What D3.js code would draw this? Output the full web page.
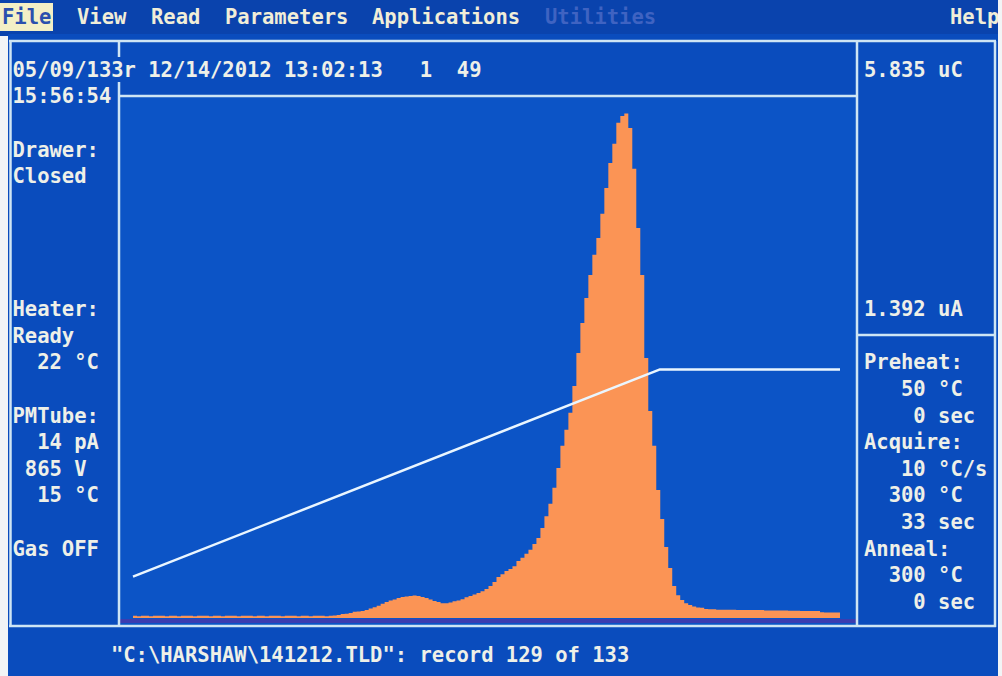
<!DOCTYPE html>
<html>
<head>
<meta charset="utf-8">
<script src="https://cdn.jsdelivr.net/npm/d3@7"></script>
<style>
  html, body { margin: 0; padding: 0; background: #f2f4f6; }
  svg { display: block; }
  text { font-family: "DejaVu Sans Mono", "Liberation Mono", monospace; font-weight: bold; font-size: 20.5px; white-space: pre; }
</style>
</head>
<body>
<svg id="screen" width="1002" height="676"></svg>
<script>
// ---- Readout data -------------------------------------------------------
// PMT current per channel (nA) over the acquire cycle
const glowCurve = [
  6, 5, 6, 6, 5, 6, 6, 6, 5, 6, 6, 5, 6, 6, 6, 5, 6, 6, 6, 5,
  6, 6, 5, 6, 6, 6, 5, 6, 6, 6, 5, 6, 6, 5, 6, 6, 6, 5, 6, 6,
  6, 5, 6, 6, 5, 6, 6, 6, 5,
  6, 7, 8, 11, 12, 14, 17, 18, 19, 22, 26, 30, 34, 39, 44, 48, 51, 55, 58, 59,
  61, 62, 61, 58, 55, 51, 47, 44, 41, 41, 43, 46, 48, 52, 57, 61, 65, 69, 74, 80,
  88, 99, 113, 121, 130, 135, 143, 157, 166, 177, 188, 204, 221, 248, 281, 315, 359, 414, 475, 519,
  566, 640, 731, 814, 883, 946, 1002, 1048, 1115, 1186, 1255, 1308, 1366, 1385, 1392, 1352, 1239, 1076, 946, 717,
  571, 475, 353, 273, 196, 138, 88, 63, 50, 41, 36, 32, 29, 28, 25,
  24, 24, 23, 23, 23, 23, 23, 22, 22, 22, 22, 22, 22, 22, 21, 21, 21, 21, 21, 21,
  20, 20, 20, 19, 19, 19, 19, 19,
  16, 15, 15, 15, 15
];
const acquireSeconds = 33;

// Planchet temperature profile (s, °C)
const tempTime  = [0, 24.6, 33];
const tempValue = [50, 300, 300];

// Screen text
const menuItems = ["File", "View", "Read", "Parameters", "Applications", "Utilities", "Help"];
const headerLine = "05/09/133r 12/14/2012 13:02:13   1  49";
const leftPanelLines = [
  "15:56:54", "", "Drawer:", "Closed", "", "", "", "",
  "Heater:", "Ready", "  22 °C", "",
  "PMTube:", "  14 pA", " 865 V", "  15 °C", "", "Gas OFF"
];
const chargeLabel = "5.835 uC";
const settingsLines = [
  "Preheat:", "   50 °C", "    0 sec",
  "Acquire:", "   10 °C/s", "  300 °C", "   33 sec",
  "Anneal:", "  300 °C", "    0 sec"
];
const statusLine = "\"C:\\HARSHAW\\141212.TLD\": record 129 of 133";

// ---- Layout -------------------------------------------------------------
const W = 1002, H = 676;
const CW = 12.3;                       // character cell width
const rowY = r => 16 + 26.6 * r;       // character row centre
const BASE = 7.5;                      // centre -> baseline
const MENU_X = [2, 77, 151, 225, 372, 545, 950];

const C = {
  menu: "#0a43ad",
  panel: "#0a4cbd",
  plot: "#0c54c6",
  frame: "#cfe5f4",
  text: "#eef0e8",
  menuText: "#f1eed8",
  glow: "#fb9455",
  temp: "#eaf6ff",
  floor: "#3b3db0"
};

const svg = d3.select("#screen");

// Backgrounds
svg.append("rect").attr("x", 0).attr("y", 0).attr("width", 998).attr("height", 36).attr("fill", C.menu);
svg.append("rect").attr("x", 8).attr("y", 34).attr("width", 990).attr("height", H - 34).attr("fill", C.panel);
svg.append("rect").attr("x", 120).attr("y", 97).attr("width", 737).attr("height", 529).attr("fill", C.plot);

// Scales
const x = d3.scaleLinear().domain([0, acquireSeconds]).range([133, 840]);
const yI = d3.scaleLinear().domain([0, 1440]).range([618, 96]);
const yT = d3.scaleLinear().domain([0, 630]).range([618, 96]);

// Floor band under the curve
svg.append("rect").attr("x", 120).attr("y", 619).attr("width", 737).attr("height", 4).attr("fill", C.floor);

// Glow curve as stepped histogram
const dt = acquireSeconds / glowCurve.length;
const pts = glowCurve.map((v, i) => [i * dt, v]);
pts.push([glowCurve.length * dt, glowCurve[glowCurve.length - 1]]);
const area = d3.area()
  .x(d => x(d[0]))
  .y0(yI(0))
  .y1(d => yI(d[1]))
  .curve(d3.curveStepAfter);
svg.append("path").datum(pts).attr("d", area).attr("fill", C.glow);

// Temperature trace
const tPts = tempTime.map((t, i) => [t, tempValue[i]]);
svg.append("path").datum(tPts)
  .attr("d", d3.line().x(d => x(d[0])).y(d => yT(d[1])))
  .attr("fill", "none").attr("stroke", C.temp).attr("stroke-width", 2.5)
  .attr("stroke-linejoin", "round");

// Frame lines
const frame = [
  [9, 41, 996, 41], [10.5, 41, 10.5, 627], [995, 41, 995, 627], [9, 626, 996, 626],
  [119, 41, 119, 57], [119, 82, 119, 626], [119, 96, 857, 96],
  [857, 41, 857, 626], [857, 335, 995, 335]
];
svg.append("g").selectAll("line").data(frame).join("line")
  .attr("x1", d => d[0]).attr("y1", d => d[1]).attr("x2", d => d[2]).attr("y2", d => d[3])
  .attr("stroke", C.frame).attr("stroke-width", 2.5);

// Menu bar (first entry highlighted)
svg.append("rect").attr("x", 0).attr("y", 3).attr("width", 53).attr("height", 28).attr("fill", "#f3efc6");
svg.append("g").selectAll("text").data(menuItems).join("text")
  .attr("x", (d, i) => MENU_X[i])
  .attr("y", rowY(0) + BASE)
  .attr("fill", (d, i) => i === 0 ? "#2a4fae" : (d === "Utilities" ? "#3f63c2" : C.menuText))
  .text(d => d);

// Header row
svg.append("text").attr("x", 12.5).attr("y", rowY(2) + BASE).attr("fill", C.text).text(headerLine);

// Left status panel
svg.append("g").selectAll("text").data(leftPanelLines).join("text")
  .attr("x", 12.5).attr("y", (d, i) => rowY(3 + i) + BASE)
  .attr("fill", C.text).text(d => d);

// Right panel: integral charge and peak current
const peakLabel = d3.format(".3f")(d3.max(glowCurve) / 1000) + " uA";
svg.append("text").attr("x", 864).attr("y", rowY(2) + BASE).attr("fill", C.text).text(chargeLabel);
svg.append("text").attr("x", 864).attr("y", rowY(11) + BASE).attr("fill", C.text).text(peakLabel);

// Time-temperature profile settings
svg.append("g").selectAll("text").data(settingsLines).join("text")
  .attr("x", 864).attr("y", (d, i) => rowY(13 + i) + BASE)
  .attr("fill", C.text).text(d => d);

// Status line
svg.append("text").attr("x", 110.9).attr("y", rowY(24) + BASE).attr("fill", C.text).text(statusLine);

// Right page margin
svg.append("rect").attr("x", 998).attr("y", 0).attr("width", 4).attr("height", H).attr("fill", "#f2f4f6");
</script>
</body>
</html>
